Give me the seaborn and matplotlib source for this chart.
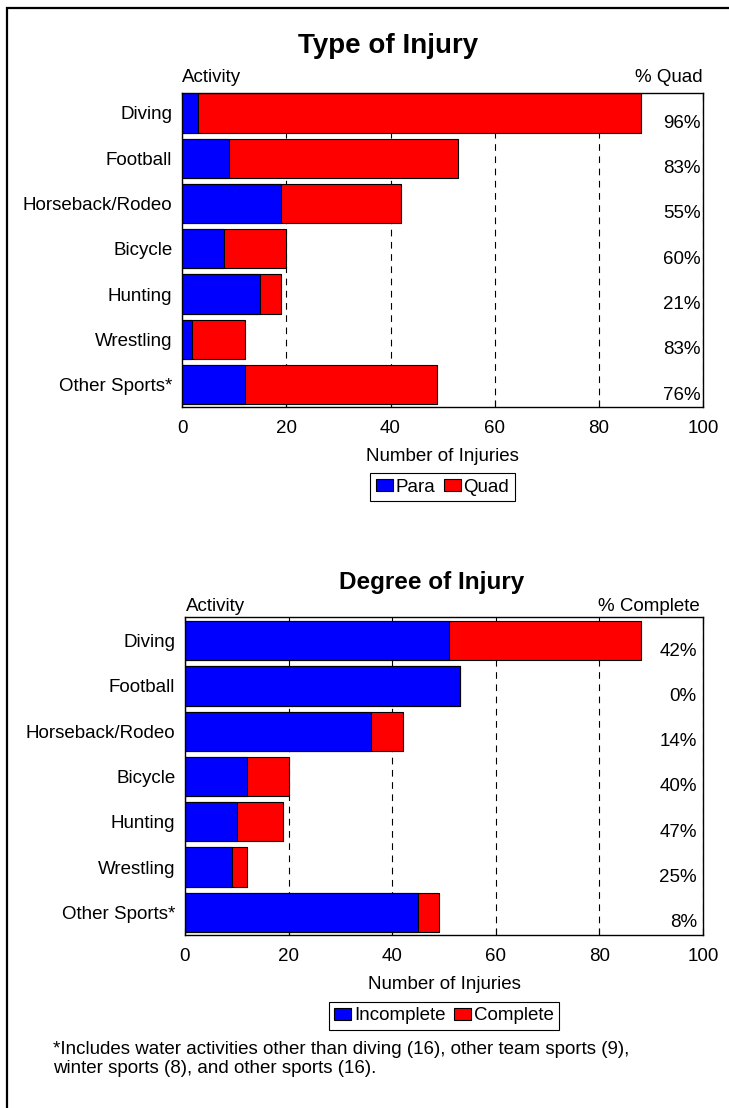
"""Spinal cord injuries by sport: type and degree of injury, stacked bars."""

import matplotlib
matplotlib.use("Agg")
import matplotlib.pyplot as plt  # noqa: E402
from matplotlib.patches import Patch, Rectangle  # noqa: E402
import seaborn as sns  # noqa: E402
import pandas as pd  # noqa: E402

ACTIVITIES = ["Diving", "Football", "Horseback/Rodeo", "Bicycle",
              "Hunting", "Wrestling", "Other Sports*"]

# Type of injury
PARA = [3, 9, 19, 8, 15, 2, 12]
QUAD = [85, 44, 23, 12, 4, 10, 37]
PCT_QUAD = [96, 83, 55, 60, 21, 83, 76]

# Degree of injury
INCOMPLETE = [51, 53, 36, 12, 10, 9, 45]
COMPLETE = [37, 0, 6, 8, 9, 3, 4]
PCT_COMPLETE = [42, 0, 14, 40, 47, 25, 8]

X_TICKS = [0, 20, 40, 60, 80, 100]

FOOTNOTE = ("*Includes water activities other than diving (16), other team sports (9),\n"
            "winter sports (8), and other sports (16).")

W, H = 729, 1108
BLUE = "#0000ff"
RED = "#ff0000"
FS = 13.5


def fx(x):
    return x / W


def fy(y):
    return 1 - y / H


def axes_rect(left, top, right, bottom):
    return [fx(left), fy(bottom), (right - left) / W, (bottom - top) / H]


def draw_panel(ax, first, second, pct, ylim, pct_x):
    df = pd.DataFrame({
        "activity": ACTIVITIES,
        "first": first,
        "total": [a + b for a, b in zip(first, second)],
    })
    common = dict(y="activity", width=0.867, saturation=1, edgecolor="black",
                  linewidth=0.8, errorbar=None, ax=ax)
    sns.barplot(data=df, x="total", color=RED, **common)
    sns.barplot(data=df, x="first", color=BLUE, **common)

    ax.set_xlim(0, 100)
    ax.set_ylim(*ylim)
    ax.set_xticks(X_TICKS)
    ax.set_axisbelow(True)
    ax.grid(axis="x", linestyle=(0, (6, 5)), color="black", linewidth=0.8)
    ax.grid(axis="y", visible=False)
    ax.tick_params(axis="x", direction="in", top=True, bottom=True, length=5,
                   width=0.8, labelsize=FS, pad=9.5, colors="black")
    ax.tick_params(axis="y", length=0, pad=7, labelsize=FS, colors="black")
    ax.set_ylabel("")
    ax.set_xlabel("Number of Injuries", fontsize=FS, labelpad=8, color="black")
    for s in ax.spines.values():
        s.set_visible(True)
        s.set_color("black")
        s.set_linewidth(1)

    for i, p in enumerate(pct):
        ax.text(pct_x, i + 0.23, f"{p}%", ha="right", va="center", fontsize=FS)


def add_legend(fig, labels, cx, cy):
    handles = [Patch(facecolor=BLUE, edgecolor="black", linewidth=0.8, label=labels[0]),
               Patch(facecolor=RED, edgecolor="black", linewidth=0.8, label=labels[1])]
    leg = fig.legend(handles=handles, loc="center", bbox_to_anchor=(fx(cx), fy(cy)),
                     ncol=2, frameon=True, fancybox=False, edgecolor="black",
                     framealpha=1, fontsize=FS, handlelength=0.9, handleheight=0.6,
                     handletextpad=0.15, columnspacing=0.45, borderpad=0.3,
                     borderaxespad=0)
    leg.get_frame().set_linewidth(0.8)


sns.set_style("white")
plt.rcParams["font.family"] = ["Liberation Sans", "DejaVu Sans"]
plt.rcParams["text.color"] = "black"
plt.rcParams["axes.labelcolor"] = "black"

fig = plt.figure(figsize=(W / 100, H / 100), dpi=100)

# top panel: type of injury
ax1 = fig.add_axes(axes_rect(182, 93.3, 703.3, 406.7))
draw_panel(ax1, PARA, QUAD, PCT_QUAD, (6.485, -0.433), 99.5)
fig.text(fx(388), fy(53), "Type of Injury", ha="center", va="baseline",
         fontsize=20, fontweight="bold")
fig.text(fx(182), fy(82), "Activity", ha="left", va="baseline", fontsize=FS)
fig.text(fx(703), fy(82), "% Quad", ha="right", va="baseline", fontsize=FS)
add_legend(fig, ["Para", "Quad"], 442.5, 487)

# bottom panel: degree of injury
ax2 = fig.add_axes(axes_rect(185, 617.3, 703, 935))
draw_panel(ax2, INCOMPLETE, COMPLETE, PCT_COMPLETE, (6.5, -0.515), 98.8)
fig.text(fx(432), fy(589), "Degree of Injury", ha="center", va="baseline",
         fontsize=17.5, fontweight="bold")
fig.text(fx(186), fy(611), "Activity", ha="left", va="baseline", fontsize=FS)
fig.text(fx(700), fy(611), "% Complete", ha="right", va="baseline", fontsize=FS)
add_legend(fig, ["Incomplete", "Complete"], 444, 1016)

fig.text(fx(53), fy(1041), FOOTNOTE, ha="left", va="top", fontsize=FS,
         linespacing=1.17)

# outer frame, cut off at the right and bottom edges
fig.patches.append(Rectangle((fx(7), -0.1), 1.0, fy(8) + 0.1, transform=fig.transFigure,
                             fill=False, edgecolor="black", linewidth=1.6))

fig.savefig("out.png", dpi=100)
plt.close(fig)
